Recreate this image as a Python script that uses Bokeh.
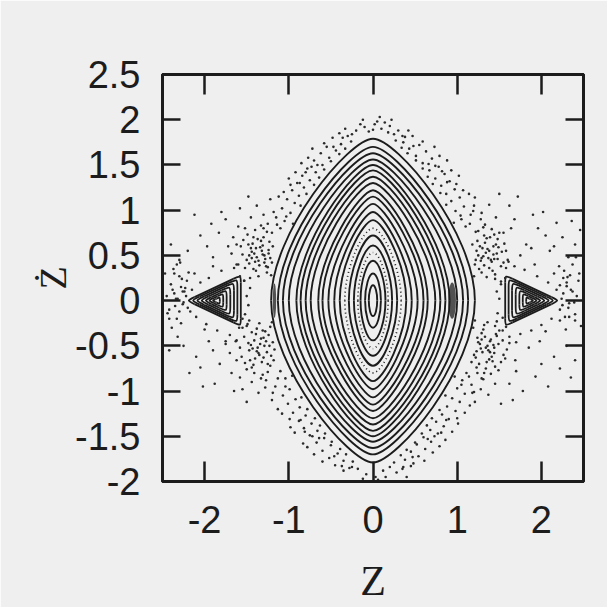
import numpy as np
from bokeh.plotting import figure
from bokeh.models import LinearAxis, FixedTicker, Range1d, NumeralTickFormatter, ColumnDataSource
from bokeh.embed import file_html
from bokeh.resources import INLINE

# ---------------- data ----------------
x_ticks = [-2, -1, 0, 1, 2]
y_ticks = [-2, -1.5, -1, -0.5, 0, 0.5, 1, 1.5, 2, 2.5]

# invariant curves around the origin: half-height (zdot at Z=0) and half-width (Z at zdot=0)
main_v = [0.17, 0.30, 0.44, 0.61, 0.72, 0.89, 0.98, 1.07, 1.15,
          1.22, 1.30, 1.37, 1.44, 1.50, 1.56, 1.63, 1.70, 1.79]
main_w = [0.05, 0.094, 0.148, 0.227, 0.287, 0.395, 0.46, 0.53, 0.60,
          0.65, 0.74, 0.80, 0.86, 0.91, 1.00, 1.07, 1.13, 1.21]
# dotted (island-chain) curves
dotted_v = [0.53, 0.80]
dotted_w = [0.18, 0.335]

# small resonance islands on the sides (corner positions relative to island centre)
island_center_z = [-1.86, 1.86]
island_apex_dz = 0.35
island_base_dz = 0.29
island_half_h = 0.28
island_scales = [1.0, 0.86, 0.72, 0.57, 0.42, 0.28, 0.14]

# thick island-chain marks near the big separatrix
chain_z = [-1.17, 0.94]
chain_zdot = [0.0, 0.0]
chain_w = [0.04, 0.09]
chain_h = [0.38, 0.40]

# chaotic-sea points (Z, dZ/dt), grouped by region
sea_left_upper = [(-1.52,0.36),(-1.47,0.41),(-1.41,0.52),(-1.36,0.44),(-1.31,0.61),(-1.27,0.38),(-1.22,0.47),
    (-1.45,0.58),(-1.39,0.33),(-1.33,0.66),(-1.29,0.50),(-1.24,0.56),(-1.50,0.45),(-1.43,0.63),(-1.35,0.39),
    (-1.30,0.70),(-1.26,0.31),(-1.20,0.42),(-1.38,0.48),(-1.32,0.55),(-1.48,0.62),(-1.42,0.35),(-1.34,0.59),
    (-1.28,0.46),(-1.23,0.65),(-1.55,0.51),(-1.40,0.43),(-1.37,0.68),(-1.25,0.37),(-1.44,0.54),
    (-1.58,0.27),(-1.53,0.22),(-1.46,0.25),(-1.62,0.40),(-1.57,0.60),(-1.49,0.73),(-1.40,0.78),(-1.33,0.83),
    (-1.26,0.76),(-1.19,0.60),(-1.21,0.28),(-1.36,0.27),(-1.44,0.47),(-1.29,0.42),(-1.39,0.58),(-1.47,0.50),
    (-1.31,0.51),(-1.54,0.67),(-1.42,0.70),(-1.24,0.52)]
sea_left_lower = [(-1.50,-0.28),(-1.44,-0.35),(-1.38,-0.31),(-1.33,-0.42),(-1.29,-0.50),(-1.24,-0.38),(-1.19,-0.46),
    (-1.47,-0.55),(-1.41,-0.44),(-1.35,-0.60),(-1.31,-0.33),(-1.26,-0.57),(-1.53,-0.40),(-1.46,-0.66),(-1.37,-0.52),
    (-1.30,-0.63),(-1.22,-0.29),(-1.17,-0.54),(-1.42,-0.71),(-1.34,-0.48),(-1.49,-0.26),(-1.39,-0.37),(-1.32,-0.68),
    (-1.27,-0.45),(-1.21,-0.61),(-1.45,-0.49),(-1.36,-0.58),(-1.28,-0.34),(-1.40,-0.64),(-1.25,-0.70),
    (-1.59,-0.30),(-1.55,-0.20),(-1.47,-0.22),(-1.63,-0.45),(-1.56,-0.62),(-1.50,-0.76),(-1.41,-0.80),(-1.33,-0.86),
    (-1.25,-0.79),(-1.18,-0.66),(-1.20,-0.24),(-1.35,-0.25),(-1.43,-0.53),(-1.30,-0.41),(-1.38,-0.56),(-1.48,-0.47),
    (-1.23,-0.50),(-1.52,-0.69),(-1.44,-0.74),(-1.58,-0.52)]
sea_left_island = [(-1.95,0.25),(-2.05,0.20),(-1.80,0.33),(-1.65,0.36),(-2.15,0.12),(-2.22,0.05),(-2.20,-0.08),
    (-2.10,-0.18),(-1.98,-0.26),(-1.85,-0.33),(-1.70,-0.38),(-1.55,-0.30),(-1.52,-0.15),(-1.50,0.05),(-1.53,0.22),
    (-1.60,0.40),(-1.90,0.38),(-2.00,-0.32),(-2.28,0.15),(-2.30,-0.12),(-1.75,-0.45),(-1.62,-0.44),(-2.12,0.30),
    (-1.48,-0.05),(-1.46,0.14),(-2.24,0.10),(-2.26,-0.04),(-2.34,0.02),(-2.38,0.12),(-2.33,-0.20),(-2.27,0.24),
    (-2.42,-0.10),(-2.36,0.30)]
sea_left_far = [(-2.45,0.05),(-2.40,0.18),(-2.35,-0.06),(-2.30,0.27),(-2.26,0.10),(-2.21,0.22),(-2.17,-0.12),
    (-2.42,-0.20),(-2.37,0.35),(-2.32,0.02),(-2.28,-0.25),(-2.23,0.14),(-2.47,0.30),(-2.39,-0.30),(-2.33,0.40),
    (-2.25,-0.02),(-2.19,0.31),(-2.44,-0.14),(-2.36,0.08),(-2.29,0.42)]
sea_left_high = [(-2.20,0.55),(-2.05,0.72),(-1.90,0.48),(-1.75,0.90),(-1.62,0.62),(-1.52,0.80),(-2.12,0.95),
    (-1.97,0.60),(-1.83,0.75),(-1.68,0.52),(-1.58,1.02),(-2.30,0.45),(-1.80,0.98),(-1.66,0.70),(-1.92,0.85),
    (-1.45,0.92),(-1.38,1.05),(-1.30,0.95),(-1.22,1.12),(-1.48,1.15),(-1.60,0.82),(-2.40,0.62),(-1.72,0.60)]
sea_left_low = [(-2.25,-0.50),(-2.10,-0.62),(-1.95,-0.45),(-1.82,-0.70),(-1.70,-0.58),(-1.58,-0.85),(-2.18,-0.80),
    (-2.02,-0.95),(-1.88,-0.92),(-1.75,-0.48),(-1.62,-0.66),(-2.32,-0.40),(-1.65,-1.00),(-1.90,-0.55),(-2.05,-0.74),
    (-1.44,-0.90),(-1.36,-1.02),(-1.28,-0.96),(-1.20,-1.10),(-1.50,-1.12),(-1.68,-0.80),(-2.42,-0.55),(-1.55,-0.98)]
sea_upper_left_edge = [(-1.10,0.80),(-1.05,0.88),(-1.15,0.92),(-0.98,0.97),(-1.08,1.02),(-0.93,1.08),(-1.02,1.12),
    (-0.88,1.16),(-0.96,1.22),(-0.82,1.25),(-0.90,1.30),(-0.75,1.33),(-0.84,1.38),(-0.68,1.42),(-0.78,1.46),
    (-0.60,1.50),(-0.70,1.55),(-0.52,1.58),(-0.62,1.63),(-0.44,1.66),(-0.55,1.70),(-0.38,1.73),(-1.20,0.75),
    (-1.25,0.85),(-1.12,1.15),(-1.00,1.35),(-0.85,1.52),(-0.72,1.68),(-0.48,1.80),(-0.30,1.82),
    (-0.95,0.85),(-1.18,0.98),(-0.86,1.05),(-1.06,1.20),(-0.79,1.18),(-0.92,1.42),(-0.70,1.28),(-0.98,1.28),
    (-0.64,1.36),(-0.77,1.58),(-0.58,1.45),(-0.66,1.50),(-0.50,1.54),(-0.58,1.74),(-0.40,1.62),(-0.47,1.70),
    (-0.33,1.68),(-0.36,1.80),(-0.26,1.76),(-1.30,0.80),(-1.14,0.84),(-0.87,1.30),(-0.73,1.48),(-1.03,0.93),
    (-0.80,1.42)]
sea_lower_left_edge = [(-1.10,-0.78),(-1.04,-0.86),(-1.16,-0.95),(-0.99,-0.98),(-1.07,-1.05),(-0.92,-1.09),
    (-1.01,-1.14),(-0.87,-1.18),(-0.95,-1.24),(-0.80,-1.27),(-0.88,-1.33),(-0.73,-1.36),(-0.82,-1.41),(-0.66,-1.44),
    (-0.75,-1.49),(-0.58,-1.52),(-0.67,-1.57),(-0.50,-1.60),(-0.60,-1.66),(-0.42,-1.69),(-0.52,-1.74),(-0.35,-1.77),
    (-1.22,-0.72),(-1.27,-0.88),(-1.13,-1.20),(-0.98,-1.40),(-0.83,-1.58),(-0.70,-1.70),(-0.45,-1.82),(-0.28,-1.85),
    (-0.96,-0.83),(-1.19,-1.02),(-0.85,-1.07),(-1.08,-1.25),(-0.78,-1.20),(-0.93,-1.46),(-0.69,-1.30),(-0.99,-1.31),
    (-0.63,-1.38),(-0.78,-1.62),(-0.57,-1.47),(-0.64,-1.52),(-0.49,-1.56),(-0.60,-1.78),(-0.39,-1.64),(-0.46,-1.72),
    (-0.32,-1.70),(-0.37,-1.83),(-0.24,-1.78),(-1.31,-0.82),(-1.13,-0.86),(-0.86,-1.32),(-0.72,-1.50),(-1.04,-0.95),
    (-0.81,-1.45)]
sea_top = [(-0.20,1.88),(-0.10,1.92),(0.02,1.95),(0.10,1.90),(0.18,1.86),(0.05,1.98),(-0.05,1.87),(0.14,1.97),
    (-0.15,1.95),(0.25,1.84),(0.08,2.03),(-0.25,1.84),(0.30,1.88),(0.00,1.89),(0.20,1.93),(-0.40,1.85),
    (-0.33,1.90),(0.35,1.82),(0.42,1.88),(-0.12,2.00),(0.22,2.00)]
sea_bottom = [(-0.18,-1.86),(-0.08,-1.92),(0.03,-1.95),(0.12,-1.88),(0.20,-1.84),(0.06,-1.98),(-0.12,-1.97),
    (0.28,-1.90),(0.15,-1.95),(-0.25,-1.84),(0.35,-1.86),(0.40,-1.95),(-0.35,-1.88),(0.45,-1.83)]
sea_right_upper = [(1.21,0.40),(1.26,0.35),(1.31,0.49),(1.36,0.57),(1.41,0.43),(1.46,0.62),(1.52,0.38),(1.24,0.66),
    (1.29,0.31),(1.34,0.53),(1.39,0.70),(1.44,0.46),(1.49,0.59),(1.55,0.42),(1.23,0.55),(1.28,0.44),(1.33,0.64),
    (1.38,0.36),(1.43,0.51),(1.48,0.68),(1.27,0.60),(1.32,0.39),(1.37,0.47),(1.42,0.33),(1.47,0.52),(1.30,0.58),
    (1.35,0.69),(1.40,0.45),(1.25,0.50),(1.45,0.29),
    (1.57,0.25),(1.52,0.21),(1.45,0.24),(1.61,0.43),(1.56,0.63),(1.50,0.75),(1.41,0.79),(1.33,0.84),(1.25,0.77),
    (1.18,0.62),(1.20,0.27),(1.35,0.26),(1.43,0.60),(1.29,0.47),(1.38,0.55),(1.48,0.46),(1.32,0.72),(1.53,0.54),
    (1.44,0.73),(1.22,0.45)]
sea_right_lower = [(1.19,-0.30),(1.24,-0.41),(1.29,-0.36),(1.34,-0.52),(1.39,-0.45),(1.44,-0.58),(1.50,-0.33),
    (1.22,-0.63),(1.27,-0.48),(1.32,-0.27),(1.37,-0.55),(1.42,-0.67),(1.47,-0.39),(1.54,-0.44),(1.20,-0.60),
    (1.26,-0.70),(1.31,-0.32),(1.36,-0.50),(1.41,-0.62),(1.46,-0.37),(1.25,-0.46),(1.30,-0.57),(1.35,-0.68),
    (1.40,-0.43),(1.45,-0.28),(1.28,-0.53),(1.33,-0.40),(1.38,-0.65),(1.23,-0.56),(1.43,-0.49),
    (1.58,-0.29),(1.54,-0.19),(1.47,-0.23),(1.62,-0.47),(1.57,-0.64),(1.49,-0.77),(1.40,-0.81),(1.31,-0.87),
    (1.24,-0.80),(1.17,-0.68),(1.21,-0.22),(1.36,-0.24),(1.44,-0.52),(1.29,-0.43),(1.39,-0.57),(1.49,-0.48),
    (1.34,-0.75),(1.52,-0.68),(1.45,-0.73),(1.59,-0.54)]
sea_right_island = [(1.50,0.02),(1.48,-0.14),(1.52,0.18),(1.58,0.36),(1.68,0.38),(1.80,0.34),(1.95,0.27),
    (2.08,0.20),(2.18,0.12),(2.24,0.02),(2.22,-0.10),(2.12,-0.20),(2.00,-0.27),(1.88,-0.33),(1.75,-0.37),
    (1.62,-0.40),(1.54,-0.33),(2.30,0.16),(2.28,-0.18),(1.92,0.40),(1.70,-0.46),(2.05,-0.34),(1.47,0.10),
    (2.15,0.30),(1.60,0.45),(2.26,0.08),(2.33,-0.03),(2.37,0.10),(2.31,0.26),(2.40,-0.22)]
sea_right_far = [(2.22,0.17),(2.25,-0.05),(2.30,0.20),(2.35,0.12),(2.40,-0.15),(2.45,0.30),(2.22,-0.22),
    (2.27,0.33),(2.32,-0.08),(2.37,0.40),(2.42,0.05),(2.47,-0.28),(2.26,0.25),(2.29,-0.32),(2.34,0.28),
    (2.39,-0.02),(2.44,0.22),(2.21,0.38),(2.33,-0.18),(2.41,0.48)]
sea_right_high = [(1.55,0.75),(1.68,0.90),(1.82,0.62),(1.96,0.80),(2.10,0.55),(2.25,0.70),(2.40,0.62),(1.62,1.05),
    (1.75,0.50),(1.90,0.95),(2.05,0.72),(2.18,0.86),(2.32,0.48),(2.46,0.78),(1.72,1.15),(1.88,0.58),(2.02,0.98),
    (1.58,0.55),(2.15,0.60),(2.36,0.88),(1.46,0.92),(1.38,1.06),(1.29,0.97),(1.21,1.14),(1.50,1.18),(1.64,0.80)]
sea_right_low = [(1.55,-0.60),(1.70,-0.78),(1.85,-0.52),(2.00,-0.70),(2.15,-0.62),(2.30,-0.50),(1.62,-0.92),
    (1.78,-1.00),(1.93,-0.84),(2.08,-0.95),(2.22,-0.75),(2.40,-0.66),(1.66,-1.10),(1.98,-0.45),(2.35,-0.85),
    (1.45,-0.92),(1.37,-1.04),(1.28,-0.98),(1.21,-1.12),(1.52,-1.14),(1.69,-0.66)]
sea_upper_right_edge = [(1.10,0.82),(1.05,0.90),(1.16,0.95),(0.98,0.99),(1.08,1.04),(0.93,1.10),(1.03,1.14),
    (0.87,1.18),(0.97,1.23),(0.81,1.27),(0.91,1.32),(0.74,1.35),(0.85,1.40),(0.67,1.44),(0.78,1.48),(0.59,1.52),
    (0.70,1.57),(0.51,1.60),(0.63,1.65),(0.43,1.68),(0.55,1.72),(0.36,1.75),(1.22,0.76),(1.28,0.90),(1.14,1.18),
    (1.02,1.38),(0.88,1.55),(0.73,1.70),(0.47,1.82),(1.20,1.05),
    (0.96,0.86),(1.19,0.99),(0.87,1.06),(1.07,1.22),(0.80,1.19),(0.93,1.44),(0.71,1.29),(0.99,1.29),(0.65,1.37),
    (0.79,1.60),(0.59,1.46),(0.66,1.51),(0.51,1.55),(0.59,1.76),(0.41,1.63),(0.48,1.71),(0.34,1.69),(0.38,1.81),
    (0.27,1.77),(1.31,0.81),(1.15,0.85),(0.88,1.31),(0.74,1.49),(1.04,0.94),(0.82,1.43)]
sea_lower_right_edge = [(1.11,-0.80),(1.06,-0.88),(1.17,-0.93),(1.00,-0.97),(1.09,-1.03),(0.94,-1.08),(1.03,-1.12),
    (0.88,-1.17),(0.98,-1.22),(0.82,-1.26),(0.90,-1.31),(0.75,-1.34),(0.84,-1.39),(0.68,-1.43),(0.77,-1.47),
    (0.60,-1.51),(0.69,-1.56),(0.52,-1.59),(0.62,-1.64),(0.45,-1.67),(0.54,-1.72),(0.38,-1.76),(1.23,-0.74),
    (1.29,-0.86),(1.15,-1.16),(1.01,-1.36),(0.86,-1.54),(0.71,-1.68),(0.48,-1.80),(1.18,-1.02),
    (0.97,-0.84),(1.20,-1.01),(0.86,-1.05),(1.09,-1.24),(0.79,-1.21),(0.94,-1.45),(0.70,-1.30),(1.00,-1.30),
    (0.64,-1.38),(0.79,-1.61),(0.58,-1.47),(0.65,-1.53),(0.50,-1.57),(0.61,-1.77),(0.40,-1.65),(0.47,-1.73),
    (0.33,-1.71),(0.36,-1.84),(0.25,-1.79),(1.32,-0.80),(1.14,-0.84),(0.87,-1.32),(0.73,-1.50),(1.05,-0.93),
    (0.81,-1.46)]

sea_groups = [sea_left_upper, sea_left_lower, sea_left_island, sea_left_far, sea_left_high, sea_left_low,
              sea_upper_left_edge, sea_lower_left_edge, sea_top, sea_bottom,
              sea_right_upper, sea_right_lower, sea_right_island, sea_right_far, sea_right_high, sea_right_low,
              sea_upper_right_edge, sea_lower_right_edge]

# ---------------- styling ----------------
INK = "#1c1c1c"
PAPER = "#efefef"

p = figure(width=607, height=607, x_range=Range1d(-2.5, 2.5), y_range=Range1d(-2, 2.5),
           output_backend="svg", toolbar_location=None,
           min_border_left=162, min_border_right=24, min_border_top=74, min_border_bottom=126)
p.background_fill_color = PAPER
p.border_fill_color = PAPER
p.grid.visible = False
p.outline_line_color = INK
p.outline_line_width = 3

BEZ = dict(x0="x0", y0="y0", x1="x1", y1="y1", cx0="cx0", cy0="cy0", cx1="cx1", cy1="cy1")


def quad_arrays(ws, vs):
    d = dict(x0=[], y0=[], x1=[], y1=[], cx0=[], cy0=[], cx1=[], cy1=[])
    for w, v in zip(ws, vs):
        s = min(1.0, w / 0.5)
        a = 0.552 - 0.13 * s
        b = 0.552 - 0.32 * s
        for sx in (-1, 1):
            for sy in (-1, 1):
                d["x0"].append(sx * w); d["y0"].append(0.0)
                d["x1"].append(0.0); d["y1"].append(sy * v)
                d["cx0"].append(sx * w); d["cy0"].append(sy * v * a)
                d["cx1"].append(sx * w * b); d["cy1"].append(sy * v)
    return d


p.bezier(source=ColumnDataSource(quad_arrays(main_w, main_v)), line_color=INK, line_width=1.9, **BEZ)
p.bezier(source=ColumnDataSource(quad_arrays(dotted_w, dotted_v)), line_color=INK, line_width=1.7,
         line_dash="1 3", **BEZ)

# islands: triangles with rounded corners (straight sides + corner curves)
corner = dict(x0=[], y0=[], x1=[], y1=[], cx0=[], cy0=[], cx1=[], cy1=[])
side = dict(x0=[], y0=[], x1=[], y1=[])
for cz in island_center_z:
    d = 1 if cz > 0 else -1
    for s in island_scales:
        verts = [(cz + d * island_apex_dz * s, 0.0),
                 (cz - d * island_base_dz * s, island_half_h * s),
                 (cz - d * island_base_dz * s, -island_half_h * s)]
        r = 0.47 - 0.33 * s
        pts = []
        for i in range(3):
            A = verts[i - 1]; B = verts[i]; C = verts[(i + 1) % 3]
            P = (B[0] + r * (A[0] - B[0]), B[1] + r * (A[1] - B[1]))
            Q = (B[0] + r * (C[0] - B[0]), B[1] + r * (C[1] - B[1]))
            corner["x0"].append(P[0]); corner["y0"].append(P[1])
            corner["x1"].append(Q[0]); corner["y1"].append(Q[1])
            corner["cx0"].append(B[0]); corner["cy0"].append(B[1])
            corner["cx1"].append(B[0]); corner["cy1"].append(B[1])
            pts.append((P, Q))
        for i in range(3):
            Q = pts[i][1]; P = pts[(i + 1) % 3][0]
            side["x0"].append(Q[0]); side["y0"].append(Q[1])
            side["x1"].append(P[0]); side["y1"].append(P[1])
p.bezier(source=ColumnDataSource(corner), line_color=INK, line_width=1.8, **BEZ)
p.segment(source=ColumnDataSource(side), x0="x0", y0="y0", x1="x1", y1="y1", line_color=INK, line_width=1.8)

p.ellipse(x=chain_z, y=chain_zdot, width=chain_w, height=chain_h,
          fill_color=INK, fill_alpha=0.75, line_color=None)

sea_z = [pt[0] for g in sea_groups for pt in g]
sea_zd = [pt[1] for g in sea_groups for pt in g]
p.scatter(x=sea_z, y=sea_zd, size=2.6, marker="circle", fill_color="#2a2a2a", line_color=None)

# ---------------- axes ----------------
def style_axis(ax, show_labels):
    ax.axis_line_color = INK
    ax.axis_line_width = 3
    ax.major_tick_line_color = INK
    ax.major_tick_line_width = 2.5
    ax.major_tick_out = 0
    ax.minor_tick_line_color = None
    if show_labels:
        ax.major_label_text_font = "Liberation Sans"
        ax.major_label_text_font_size = "38px"
        ax.major_label_text_color = INK
    else:
        ax.major_label_text_font_size = "0px"
        ax.major_label_text_color = None


xa = p.xaxis[0]
ya = p.yaxis[0]
xa.ticker = FixedTicker(ticks=x_ticks)
ya.ticker = FixedTicker(ticks=y_ticks)
xa.formatter = NumeralTickFormatter(format="0")
ya.formatter = NumeralTickFormatter(format="0.[0]")
style_axis(xa, True)
style_axis(ya, True)
xa.major_tick_in = 20
ya.major_tick_in = 18
xa.major_label_standoff = 24
ya.major_label_standoff = 22
xa.axis_label = "Z"
ya.axis_label = "\u017b"
for ax in (xa, ya):
    ax.axis_label_text_font = "Liberation Serif"
    ax.axis_label_text_font_style = "normal"
    ax.axis_label_text_color = INK
xa.axis_label_text_font_size = "42px"
ya.axis_label_text_font_size = "38px"
xa.axis_label_standoff = 22
ya.axis_label_standoff = -2

top = LinearAxis(ticker=FixedTicker(ticks=x_ticks))
right = LinearAxis(ticker=FixedTicker(ticks=y_ticks))
style_axis(top, False)
style_axis(right, False)
top.major_tick_in = 20
right.major_tick_in = 18
p.add_layout(top, "above")
p.add_layout(right, "right")

open("out.html", "w").write(file_html(p, INLINE))
